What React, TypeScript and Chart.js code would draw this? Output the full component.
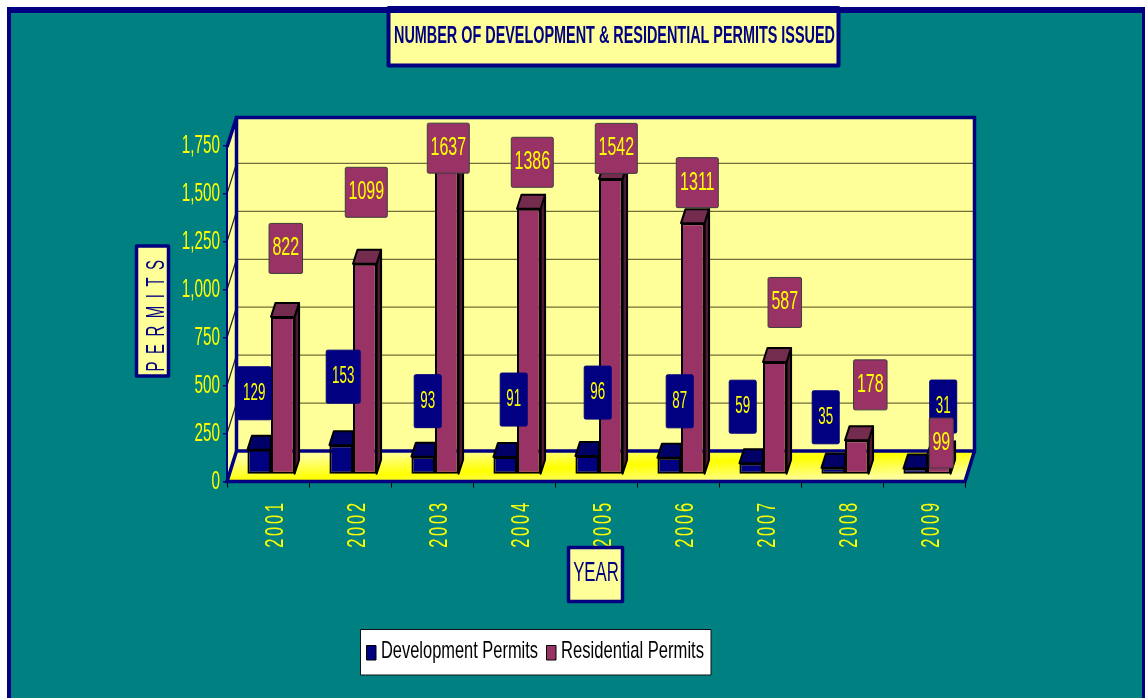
import React, { useEffect, useRef } from "react";
import { Chart, registerables } from "chart.js";

Chart.register(...registerables);

const years = ["2001", "2002", "2003", "2004", "2005", "2006", "2007", "2008", "2009"];
const developmentPermits = [129, 153, 93, 91, 96, 87, 59, 35, 31];
const residentialPermits = [822, 1099, 1637, 1386, 1542, 1311, 587, 178, 99];

// Where each value flag sits relative to the top centre of its bar.
const developmentFlagDx = [-6, 1, 3.5, 7.5, 9.5, 9.5, -9.5, -8.5, 27];
const developmentFlagRise = [56, 68, 55, 57, 63, 56, 56, 50, 61.5];
const residentialFlagDx = [2, 0.5, 0.5, 2.5, 4.5, 3.5, 9, 12.5, 1.5];
const residentialFlagRise = [68, 71, 12, 46, 30, 40, 59, 55, 12];

const SANS = '"Liberation Sans", Arial, sans-serif';
const TEAL = "#008080";
const NAVY = "#000080";
const PALE = "#FFFF99";
const YELLOW = "#FFFF00";
const PLUM = "#993366";

// Offsets of the floor/back wall and of the bars within the floor's depth.
const WALL_DX = 9.5;
const WALL_DY = -30.5;
const WALL_TOP_DY = -28.5;
const BAR_DX = 3;
const BAR_DY = -7;
const FLAG_DX = 4;
const FLAG_DY = -7.5;
const CAP_DX = 4.5;
const CAP_DY = -14;

function poly(ctx: CanvasRenderingContext2D, pts: number[][], fill: string | CanvasGradient, stroke?: string, lw = 1.5) {
  ctx.beginPath();
  pts.forEach(([x, y], i) => (i ? ctx.lineTo(x, y) : ctx.moveTo(x, y)));
  ctx.closePath();
  ctx.fillStyle = fill;
  ctx.fill();
  if (stroke) {
    ctx.strokeStyle = stroke;
    ctx.lineWidth = lw;
    ctx.lineJoin = "round";
    ctx.stroke();
  }
}

// Text squeezed horizontally to the condensed look of the chart's lettering.
function squeezed(
  ctx: CanvasRenderingContext2D,
  text: string,
  x: number,
  y: number,
  font: string,
  color: string,
  sx: number,
  align: CanvasTextAlign = "center",
  rotate = 0,
  spacing = "0px"
) {
  ctx.save();
  ctx.translate(x, y);
  if (rotate) ctx.rotate(rotate);
  ctx.scale(sx, 1);
  ctx.font = font;
  ctx.fillStyle = color;
  ctx.textAlign = align;
  ctx.textBaseline = "middle";
  (ctx as any).letterSpacing = spacing;
  ctx.fillText(text, 0, 0);
  ctx.restore();
}

// Horizontal squeeze that makes a string come out at a given width.
function fitScale(ctx: CanvasRenderingContext2D, text: string, font: string, width: number) {
  ctx.save();
  ctx.font = font;
  const w = ctx.measureText(text).width;
  ctx.restore();
  return width / w;
}

const backdrop = {
  id: "backdrop",
  beforeDraw(chart: any) {
    const { ctx, chartArea: a, scales } = chart;
    const W = chart.width;
    const H = chart.height;
    ctx.save();
    ctx.fillStyle = "#FFFFFF";
    ctx.fillRect(0, 0, W, H);
    ctx.fillStyle = NAVY;
    ctx.fillRect(7, 7, W - 7, H - 7);
    ctx.fillStyle = TEAL;
    ctx.fillRect(11, 13, W - 14, H - 13);

    const L = a.left;
    const R = a.right;
    const B = a.bottom;
    const T = a.top + 1;
    const topY = a.top + WALL_TOP_DY;
    // Back and side walls
    poly(ctx, [[L + WALL_DX, topY], [R + WALL_DX, topY], [R + WALL_DX, B + WALL_DY], [L + WALL_DX, B + WALL_DY]], PALE);
    poly(ctx, [[L, T], [L + WALL_DX, topY], [L + WALL_DX, B + WALL_DY], [L, B]], PALE);

    // Floor: yellow along its diagonal, fading to pale at the two far corners
    const cx = (L + R + WALL_DX) / 2;
    const cy = B + WALL_DY / 2;
    const grad = ctx.createLinearGradient(cx - 0.9, cy - 22, cx + 0.9, cy + 22);
    grad.addColorStop(0, PALE);
    grad.addColorStop(0.5, YELLOW);
    grad.addColorStop(1, PALE);
    poly(ctx, [[L, B], [L + WALL_DX, B + WALL_DY], [R + WALL_DX, B + WALL_DY], [R, B]], grad);

    // Grid lines on the back wall, continued down the side wall
    ctx.lineWidth = 1.2;
    scales.y.ticks.forEach((t: any) => {
      if (t.value === 0 || t.value === 1750) return;
      const y = scales.y.getPixelForValue(t.value);
      ctx.strokeStyle = "#6E6E3A";
      ctx.beginPath();
      ctx.moveTo(L + WALL_DX, y + WALL_DY);
      ctx.lineTo(R + WALL_DX, y + WALL_DY);
      ctx.stroke();
      ctx.strokeStyle = "#222222";
      ctx.beginPath();
      ctx.moveTo(L, y);
      ctx.lineTo(L + WALL_DX, y + WALL_DY);
      ctx.stroke();
    });

    // Heavy outline of the plot box
    ctx.strokeStyle = NAVY;
    ctx.lineJoin = "miter";
    ctx.lineWidth = 3.5;
    ctx.beginPath();
    ctx.moveTo(L + WALL_DX, B + WALL_DY);
    ctx.lineTo(L + WALL_DX, topY);
    ctx.lineTo(R + WALL_DX, topY);
    ctx.lineTo(R + WALL_DX, B + WALL_DY);
    ctx.lineTo(L + WALL_DX, B + WALL_DY);
    ctx.moveTo(L + WALL_DX, B + WALL_DY);
    ctx.lineTo(L, B);
    ctx.lineTo(R, B);
    ctx.lineTo(R + WALL_DX, B + WALL_DY);
    ctx.moveTo(L + WALL_DX, topY);
    ctx.lineTo(L, T);
    ctx.stroke();
    ctx.lineWidth = 2;
    ctx.beginPath();
    ctx.moveTo(L, T);
    ctx.lineTo(L, B);
    ctx.stroke();
    ctx.restore();
  },
};

const bars3d = {
  id: "bars3d",
  beforeDatasetsDraw(chart: any) {
    chart.ctx.save();
    chart.ctx.translate(BAR_DX, BAR_DY);
  },
  beforeDatasetDraw(chart: any, args: any) {
    const ctx = chart.ctx;
    const isResidential = args.index === 1;
    args.meta.data.forEach((bar: any) => {
      const hw = bar.width / 2;
      const x0 = bar.x - hw;
      const x1 = bar.x + hw;
      const t = bar.y;
      const b = bar.base;
      if (isResidential) {
        poly(ctx, [[x1, t], [x1 + CAP_DX, t + CAP_DY], [x1 + CAP_DX, b + CAP_DY], [x1, b]], "#4D1A33", "#000000", 2);
        poly(ctx, [[x0, t], [x1, t], [x1 + CAP_DX, t + CAP_DY], [x0 + CAP_DX, t + CAP_DY]], "#732B4E", "#000000", 2);
      } else {
        poly(ctx, [[x0, t], [x1, t], [x1, t + CAP_DY], [x0 + CAP_DX, t + CAP_DY]], "#000066", "#000000", 2);
      }
    });
  },
  afterDatasetsDraw(chart: any) {
    chart.ctx.restore();
  },
};

const annotations = {
  id: "annotations",
  afterDraw(chart: any) {
    const { ctx, scales } = chart;
    ctx.save();

    // Axis tick labels, squeezed to the narrow lettering
    scales.y.ticks.forEach((t: any, i: number) => {
      squeezed(ctx, t.label, 220, scales.y.getPixelForTick(i) + 0.5, `25px ${SANS}`, YELLOW, 0.61, "right");
    });
    scales.x.ticks.forEach((t: any, i: number) => {
      squeezed(ctx, t.label, scales.x.getPixelForTick(i) + 7.5, 524, `26.5px ${SANS}`, YELLOW, 0.62, "center", -Math.PI / 2, "4.5px");
    });

    // Title box
    poly(ctx, [[388.5, 8], [838.5, 8], [838.5, 65.5], [388.5, 65.5]], PALE, NAVY, 4);
    ctx.fillStyle = NAVY;
    ctx.fillRect(387, 7, 453, 6);
    const titleText = "NUMBER OF DEVELOPMENT & RESIDENTIAL PERMITS ISSUED";
    const titleFont = `bold 24px ${SANS}`;
    squeezed(ctx, titleText, 614.5, 36, titleFont, NAVY, fitScale(ctx, titleText, titleFont, 441));

    // Axis title boxes
    poly(ctx, [[136.5, 246], [168.5, 246], [168.5, 376], [136.5, 376]], PALE, NAVY, 3.5);
    squeezed(ctx, "PERMITS", 157, 312, `25px ${SANS}`, NAVY, 0.6, "center", -Math.PI / 2, "12.5px");

    poly(ctx, [[568.5, 547.5], [622.5, 547.5], [622.5, 601.5], [568.5, 601.5]], PALE, NAVY, 3.5);
    squeezed(ctx, "YEAR", 596, 573, `28px ${SANS}`, NAVY, 0.6);

    // Legend
    poly(ctx, [[360.5, 629.5], [711, 629.5], [711, 675], [360.5, 675]], "#FFFFFF", "#111111", 1);
    const [dev, res] = chart.data.datasets;
    poly(ctx, [[366.5, 645.5], [376, 645.5], [376, 660], [366.5, 660]], dev.backgroundColor, "#000000", 1);
    poly(ctx, [[546.5, 645.5], [556, 645.5], [556, 660], [546.5, 660]], res.backgroundColor, "#000000", 1);
    const legendFont = `24px ${SANS}`;
    squeezed(ctx, dev.label, 381, 651, legendFont, "#000000", fitScale(ctx, dev.label, legendFont, 157), "left");
    squeezed(ctx, res.label, 561, 651, legendFont, "#000000", fitScale(ctx, res.label, legendFont, 143), "left");

    // Value flags, residential on top of development
    const flag = (meta: any, values: number[], dxs: number[], rises: number[], w: (s: string) => number, h: number, fill: string, border: string, font: string, sx: number) => {
      meta.data.forEach((bar: any, i: number) => {
        const text = String(values[i]);
        const cx = bar.x + FLAG_DX + dxs[i];
        const cy = bar.y + FLAG_DY - rises[i];
        const bw = w(text);
        ctx.beginPath();
        ctx.roundRect(cx - bw / 2, cy - h / 2, bw, h, 1.5);
        ctx.fillStyle = fill;
        ctx.fill();
        ctx.strokeStyle = border;
        ctx.lineWidth = 1;
        ctx.stroke();
        squeezed(ctx, text, cx, cy, font, YELLOW, sx);
      });
    };
    flag(chart.getDatasetMeta(0), developmentPermits, developmentFlagDx, developmentFlagRise, (s) => (s.length > 2 ? 34 : 27), 53, NAVY, NAVY, `23px ${SANS}`, 0.58);
    flag(chart.getDatasetMeta(1), residentialPermits, residentialFlagDx, residentialFlagRise, (s) => (s.length > 3 ? 42 : s.length > 2 ? 33.5 : 24), 50, PLUM, "#3C3C3C", `25px ${SANS}`, 0.64);
    ctx.restore();
  },
};

export default function App() {
  const ref = useRef<HTMLCanvasElement>(null);
  useEffect(() => {
    const chart = new Chart(ref.current!, {
      type: "bar",
      data: {
        labels: years,
        datasets: [
          { label: "Development Permits", data: developmentPermits, backgroundColor: NAVY, borderColor: "#000000", borderWidth: 2, borderSkipped: false, clip: false } as any,
          { label: "Residential Permits", data: residentialPermits, backgroundColor: PLUM, borderColor: "#000000", borderWidth: 2, borderSkipped: false, clip: false } as any,
        ],
      },
      options: {
        responsive: false,
        animation: false,
        locale: "en-US",
        categoryPercentage: 0.575,
        barPercentage: 1,
        layout: { padding: { left: 0, right: 180, top: 146, bottom: 0 } },
        plugins: { legend: { display: false }, title: { display: false }, tooltip: { enabled: false } },
        scales: {
          x: {
            grid: { display: true, drawOnChartArea: false, drawTicks: true, tickLength: 6, color: "#000000", lineWidth: 1 },
            border: { display: false },
            ticks: { display: false, autoSkip: false },
            afterFit: (s: any) => { s.height = 216.5; },
          },
          y: {
            min: 0,
            max: 1750,
            grid: { display: true, drawOnChartArea: false, drawTicks: true, tickLength: 4, color: NAVY, lineWidth: 1.5 },
            border: { display: false },
            ticks: { display: false, stepSize: 250 },
            afterFit: (s: any) => { s.width = 227; },
          },
        },
      } as any,
      plugins: [backdrop, bars3d, annotations],
    });
    return () => chart.destroy();
  }, []);
  return (
    <div style={{ position: "absolute", left: 0, top: 0 }}>
      <canvas ref={ref} width={1145} height={698} style={{ display: "block" }} />
    </div>
  );
}
